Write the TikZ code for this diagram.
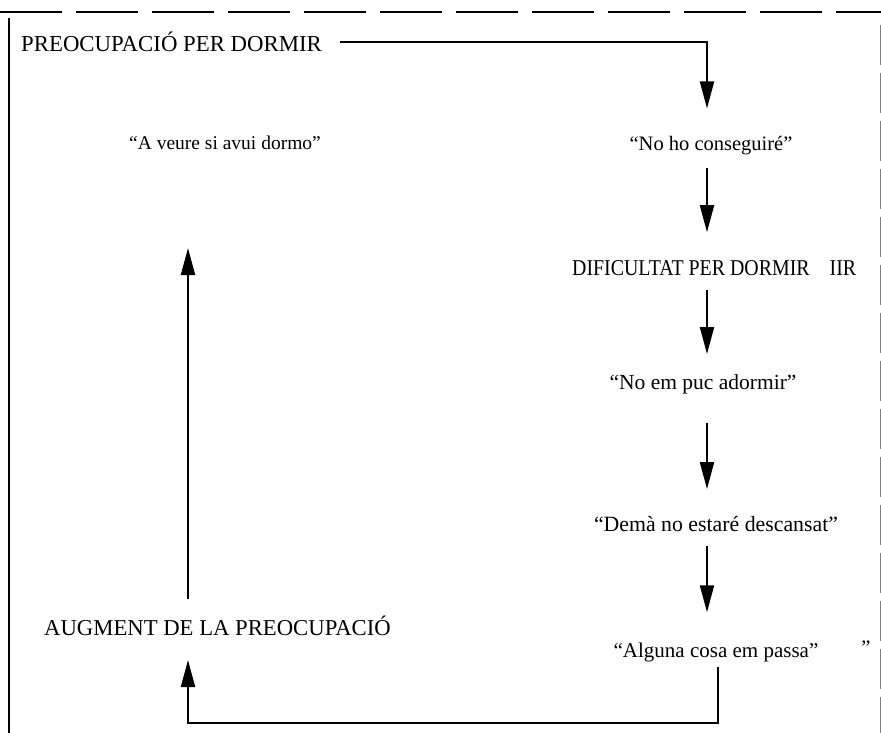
\documentclass[tikz,border=0pt]{standalone}
\usepackage{fontspec}
\setmainfont{Liberation Serif}
\usetikzlibrary{arrows.meta}

\tikzset{
  caps/.style={inner sep=0pt, font=\fontsize{#1}{24}\selectfont},
  caps/.default=22.8,
  saying/.style={inner sep=0pt, font=\fontsize{#1}{23}\selectfont},
  saying/.default=20.5,
  flow/.style={-{Triangle[length=27pt,width=14pt]}, line width=2pt},
}

\begin{document}
\begin{tikzpicture}[x=1pt,y=-1pt]
\useasboundingbox (0,0) rectangle (881,733);
% frame of the scan
\draw [line width=2.5pt, dash pattern=on 62pt off 14pt] (0,12) -- (881,12);
\draw [line width=1.2pt] (9,18) -- (9,733);
\draw [gray, line width=1pt, dash pattern=on 40pt off 8pt] (880,25) -- (880,733);

\node [caps, anchor=west] (preo) at (21,42) {PREOCUPACIÓ PER DORMIR};
\node [saying] (nohoc) at (711,146) {“No ho conseguiré”};
\node [caps=22.6, anchor=west] (dific) at (572,268) {\scalebox{0.88}[1]{DIFICULTAT PER DORMIR}\hspace{20pt}\scalebox{0.88}[1]{IIR}};
\node [saying=21.5] (adorm) at (703,384) {“No em puc adormir”};
\node [saying=21.8] (demana) at (716,524) {“Demà no estaré descansat”};
\node [saying=21] (alguna) at (716,652) {“Alguna cosa em passa”};
\node [saying] (stray) at (866,648) {”};
\node [caps=22.7, anchor=west] (augm) at (44,626) {AUGMENT DE LA PREOCUPACIÓ};
\node [saying=19.5] (aveure) at (225,143) {“A veure si avui dormo”};

\coordinate (loopr) at (718,723);
\coordinate (loopl) at (188,723);

\draw [flow, shorten >=28pt] ([xshift=18pt]preo.east) -| (nohoc.north -| 707,0);
\draw [flow, shorten <=12pt, shorten >=28pt] (nohoc.south -| 707,0) -- (dific.north -| 707,0);
\draw [flow, shorten <=14pt, shorten >=20pt] (dific.south -| 707,0) -- (adorm.north -| 707,0);
\draw [flow, shorten <=29pt, shorten >=27pt] (adorm.south -| 707,0) -- (demana.north -| 707,0);
\draw [flow, shorten <=14pt, shorten >=30pt] (demana.south -| 707,0) -- (alguna.north -| 707,0);
\draw [flow, shorten <=5pt, shorten >=24pt] (alguna.south -| loopr) -- (loopr) -- (loopl) -- (loopl |- augm.south);
\draw [flow, shorten <=17pt, shorten >=98pt] (augm.north -| loopl) -- (loopl |- aveure.south);
\end{tikzpicture}
\end{document}
